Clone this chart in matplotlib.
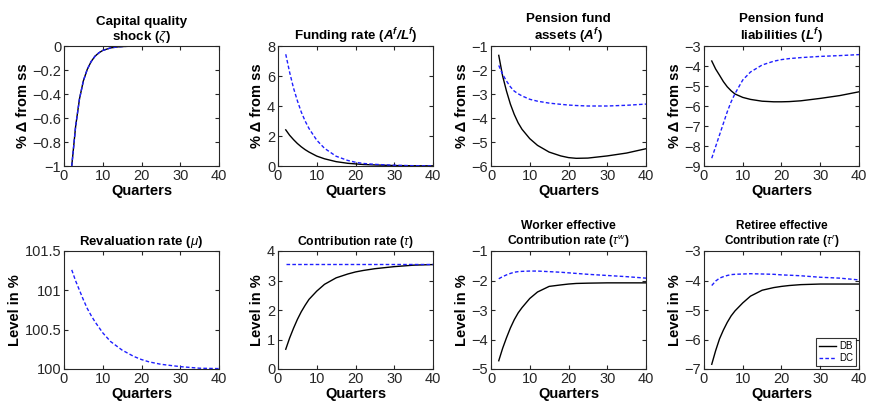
import matplotlib
matplotlib.use("Agg")
import matplotlib.pyplot as plt

plt.rcParams['font.family'] = ['Liberation Sans', 'DejaVu Sans']
plt.rcParams['mathtext.fontset'] = 'custom'
plt.rcParams['mathtext.rm'] = 'Liberation Sans'
plt.rcParams['mathtext.it'] = 'Liberation Sans:italic'
plt.rcParams['mathtext.bf'] = 'Liberation Sans:bold'
plt.rcParams['mathtext.bfit'] = 'Liberation Sans:bold:italic'

# ---- data ----
q_shock = [2, 3, 4, 5, 6, 7, 8, 9, 10, 12, 14, 16, 18, 20, 25, 30, 35, 40]
shock = [-1.0, -0.67, -0.44, -0.29, -0.195, -0.13, -0.085, -0.057, -0.037,
         -0.016, -0.007, -0.003, -0.0013, -0.0006, 0.0, 0.0, 0.0, 0.0]

q = [2, 3, 4, 5, 6, 7, 8, 10, 12, 15, 18, 20, 22, 25, 30, 35, 40]

fund_db = [2.41, 2.05, 1.76, 1.50, 1.28, 1.09, 0.93, 0.66, 0.48, 0.29, 0.18, 0.14, 0.10, 0.07, 0.03, 0.015, 0.01]
fund_dc = [7.45, 6.25, 5.20, 4.35, 3.60, 3.00, 2.50, 1.72, 1.18, 0.65, 0.37, 0.25, 0.17, 0.11, 0.05, 0.02, 0.01]

assets_db = [-1.39, -2.25, -2.88, -3.42, -3.85, -4.20, -4.47, -4.86, -5.14, -5.42, -5.58, -5.65, -5.68, -5.67, -5.58, -5.46, -5.28]
assets_dc = [-1.81, -2.18, -2.46, -2.70, -2.88, -2.99, -3.08, -3.22, -3.30, -3.38, -3.43, -3.46, -3.48, -3.50, -3.50, -3.47, -3.42]

liab_db = [-3.75, -4.15, -4.46, -4.78, -5.04, -5.24, -5.40, -5.57, -5.67, -5.76, -5.79, -5.79, -5.78, -5.74, -5.62, -5.48, -5.29]
liab_dc = [-8.61, -8.03, -7.45, -6.87, -6.29, -5.79, -5.38, -4.70, -4.30, -3.95, -3.76, -3.68, -3.63, -3.58, -3.52, -3.48, -3.43]

reval_dc = [101.26, 101.12, 101.00, 100.88, 100.77, 100.68, 100.60, 100.46, 100.35, 100.24, 100.16, 100.12, 100.09, 100.06, 100.03, 100.01, 100.005]

contr_db = [0.67, 1.05, 1.38, 1.68, 1.94, 2.16, 2.36, 2.64, 2.87, 3.09, 3.22, 3.29, 3.34, 3.40, 3.47, 3.52, 3.54]
contr_dc = [3.56] * len(q)

worker_db = [-4.72, -4.30, -3.94, -3.61, -3.33, -3.10, -2.92, -2.61, -2.39, -2.20, -2.15, -2.12, -2.10, -2.09, -2.08, -2.08, -2.08]
worker_dc = [-1.94, -1.87, -1.81, -1.76, -1.72, -1.70, -1.69, -1.68, -1.68, -1.70, -1.72, -1.74, -1.76, -1.79, -1.83, -1.87, -1.92]

retiree_db = [-6.84, -6.38, -5.98, -5.68, -5.42, -5.20, -5.03, -4.76, -4.53, -4.33, -4.24, -4.20, -4.17, -4.14, -4.12, -4.12, -4.12]
retiree_dc = [-4.17, -4.02, -3.92, -3.87, -3.83, -3.80, -3.79, -3.78, -3.77, -3.78, -3.79, -3.81, -3.82, -3.84, -3.89, -3.92, -3.98]

titles = [
    "Capital quality\nshock ($\\zeta$)",
    "Funding rate ($\\mathbfit{A^f/L^f}$)",
    "Pension fund\nassets ($\\mathbfit{A^f}$)",
    "Pension fund\nliabilities ($\\mathbfit{L^f}$)",
    "Revaluation rate ($\\mu$)",
    "Contribution rate ($\\tau$)",
    "Worker effective\nContribution rate ($\\tau^w$)",
    "Retiree effective\nContribution rate ($\\tau^r$)",
]
title_sizes = [9.6, 9.6, 9.6, 9.6, 9.5, 8.8, 8.7, 8.5]
ylims = [(-1, 0), (0, 8), (-6, -1), (-9, -3), (100, 101.5), (0, 4), (-5, -1), (-7, -3)]
yticks = [[-1, -0.8, -0.6, -0.4, -0.2, 0], [0, 2, 4, 6, 8], [-6, -5, -4, -3, -2, -1],
          [-9, -8, -7, -6, -5, -4, -3], [100, 100.5, 101, 101.5], [0, 1, 2, 3, 4],
          [-5, -4, -3, -2, -1], [-7, -6, -5, -4, -3]]
ytick_labels = [["\u22121", "\u22120.8", "\u22120.6", "\u22120.4", "\u22120.2", "0"],
                ["0", "2", "4", "6", "8"],
                ["\u22126", "\u22125", "\u22124", "\u22123", "\u22122", "\u22121"],
                ["\u22129", "\u22128", "\u22127", "\u22126", "\u22125", "\u22124", "\u22123"],
                ["100", "100.5", "101", "101.5"],
                ["0", "1", "2", "3", "4"],
                ["\u22125", "\u22124", "\u22123", "\u22122", "\u22121"],
                ["\u22127", "\u22126", "\u22125", "\u22124", "\u22123"]]
ylabels = ["% \u0394 from ss"] * 4 + ["Level in %"] * 4

W, H = 870, 405
fig = plt.figure(figsize=(8.7, 4.05), dpi=100)
lefts = [64, 278, 491, 704]
width = 155
rows = [(46, 166), (251, 369)]

axes = []
for r, (top, bot) in enumerate(rows):
    for c, lx in enumerate(lefts):
        ax = fig.add_axes([lx / W, 1 - bot / H, width / W, (bot - top) / H])
        axes.append(ax)

blue = '#1f1fff'
series = [
    (q_shock, shock, shock),
    (q, fund_db, fund_dc),
    (q, assets_db, assets_dc),
    (q, liab_db, liab_dc),
    (q, None, reval_dc),
    (q, contr_db, contr_dc),
    (q, worker_db, worker_dc),
    (q, retiree_db, retiree_dc),
]

for i, ax in enumerate(axes):
    x, db, dc = series[i]
    if db is not None:
        ax.plot(x, db, color='black', lw=1.0, label='DB')
    ax.plot(x, dc, color=blue, lw=1.0, ls=(0, (2.6, 1.6)), label='DC')
    ax.set_xlim(0, 40)
    ax.set_ylim(*ylims[i])
    ax.set_xticks([0, 10, 20, 30, 40])
    ax.set_yticks(yticks[i])
    ax.set_yticklabels(ytick_labels[i])
    ax.tick_params(direction='in', top=True, right=True, length=3, width=0.8,
                   labelsize=10.5, colors='#262626', pad=2)
    for s in ax.spines.values():
        s.set_linewidth(0.8)
        s.set_color('#262626')
    ax.set_xlabel("Quarters", fontsize=10.5, fontweight='bold', labelpad=1)
    ax.set_ylabel(ylabels[i], fontsize=10.5, fontweight='bold', labelpad=2)
    ax.set_title(titles[i], fontsize=title_sizes[i], fontweight='bold', pad=4, linespacing=1.1)

leg = axes[7].legend(loc='lower right', fontsize=7, frameon=True, fancybox=False,
                     handlelength=1.8, borderpad=0.3, labelspacing=0.2,
                     handletextpad=0.3, borderaxespad=0.3)
leg.get_frame().set_edgecolor('black')
leg.get_frame().set_linewidth(0.8)

fig.savefig("out.png", dpi=100)
